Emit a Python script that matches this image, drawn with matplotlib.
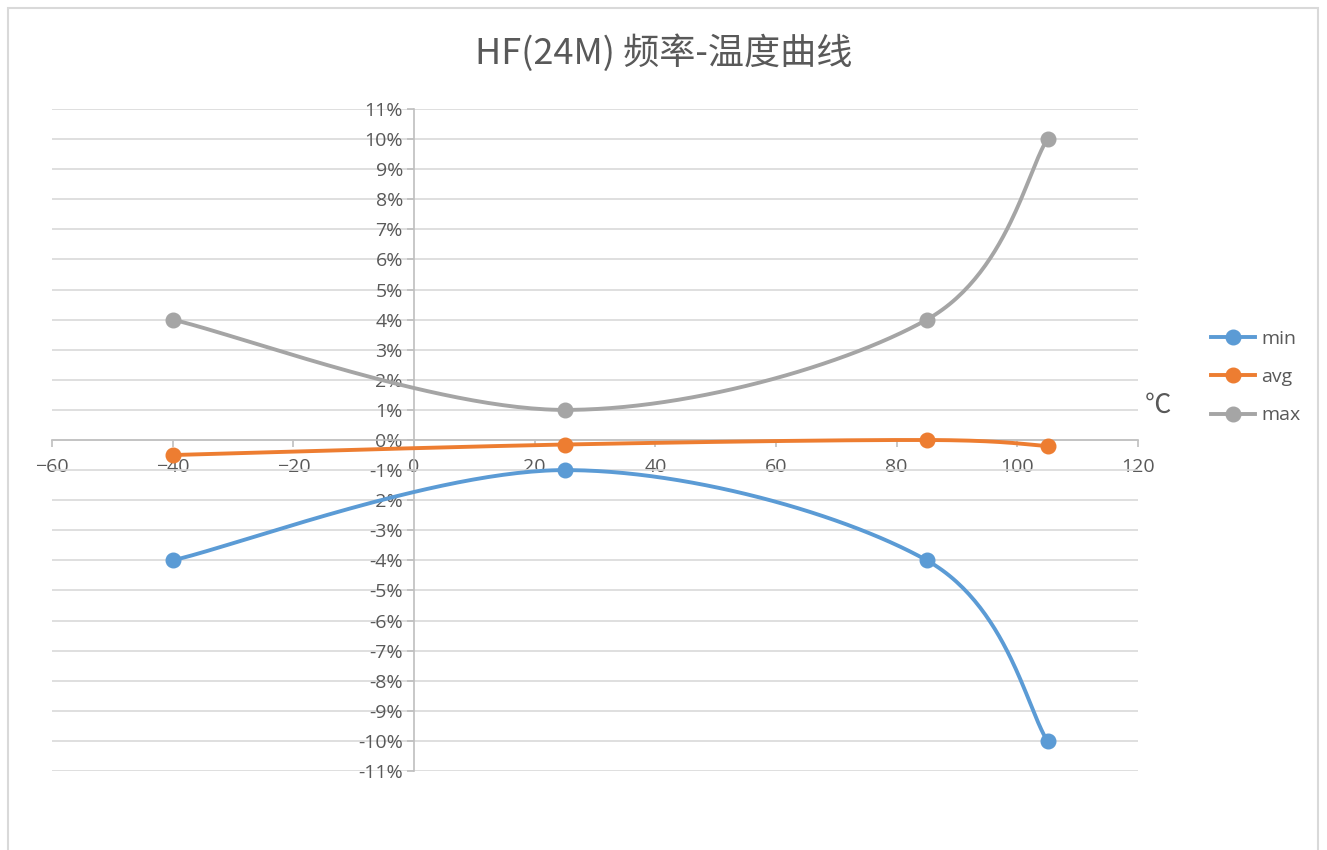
import numpy as np
import matplotlib
matplotlib.use("Agg")
import matplotlib.pyplot as plt
from matplotlib.ticker import FuncFormatter, MultipleLocator
from matplotlib.patches import Rectangle

plt.rcParams['font.family'] = ['Open Sans', 'Noto Sans CJK SC', 'DejaVu Sans']

# data (temperature in C, frequency deviation in %)
temps = [-40, 25, 85, 105]
min_vals = [-4.0, -1.0, -4.0, -10.0]
avg_vals = [-0.5, -0.15, 0.0, -0.2]
max_vals = [4.0, 1.0, 4.0, 10.0]
series_names = ['min', 'avg', 'max']
colors = ['#5B9BD5', '#ED7D31', '#A5A5A5']


def smooth(xs, ys, n=60):
    # excel style smoothed line (catmull-rom bezier)
    p = np.column_stack([xs, ys]).astype(float)
    pts = np.vstack([p[0], p, p[-1]])
    out = []
    t = np.linspace(0, 1, n)[:, None]
    for i in range(1, len(pts) - 2):
        p0, p1, p2, p3 = pts[i - 1], pts[i], pts[i + 1], pts[i + 2]
        c1 = p1 + (p2 - p0) / 6.0
        c2 = p2 - (p3 - p1) / 6.0
        seg = ((1 - t) ** 3) * p1 + 3 * ((1 - t) ** 2) * t * c1 + 3 * (1 - t) * t ** 2 * c2 + t ** 3 * p2
        out.append(seg)
    seg = np.vstack(out)
    return seg[:, 0], seg[:, 1]


fig = plt.figure(figsize=(13.27, 8.5), dpi=100)
ax = fig.add_axes([52 / 1327, 1 - 771 / 850, (1138 - 52) / 1327, (771 - 109) / 850])

# chart frame
fig.patches.append(Rectangle((8 / 1327, -0.05), 1310 / 1327, 1 - 8 / 850 + 0.05,
                             transform=fig.transFigure, fill=False,
                             edgecolor='#D9D9D9', lw=1.5))

for name, vals, c in zip(series_names, [min_vals, avg_vals, max_vals], colors):
    sx, sy = smooth(temps, vals)
    ax.plot(sx, sy, color=c, lw=2.8, solid_capstyle='round', zorder=3)
    ax.plot(temps, vals, 'o', color=c, ms=10.5, zorder=4)
    ax.plot([], [], '-o', color=c, lw=2.8, ms=10.5, label=name)

ax.set_xlim(-60, 120)
ax.set_ylim(-11, 11)
ax.xaxis.set_major_locator(MultipleLocator(20))
ax.yaxis.set_major_locator(MultipleLocator(1))
ax.yaxis.set_major_formatter(FuncFormatter(lambda v, p: '%d%%' % round(v)))
ax.grid(axis='y', color='#D9D9D9', lw=1.2)
ax.set_axisbelow(True)

ax.spines['left'].set_position(('data', 0))
ax.spines['bottom'].set_position(('data', 0))
ax.spines['top'].set_visible(False)
ax.spines['right'].set_visible(False)
for s in ['left', 'bottom']:
    ax.spines[s].set_color('#BFBFBF')
    ax.spines[s].set_linewidth(1.2)
ax.tick_params(axis='both', colors='#BFBFBF', labelcolor='#595959', labelsize=14,
               length=5, width=1.2)
ax.tick_params(axis='x', pad=8)
ax.tick_params(axis='y', pad=3)

fig.text(0.5, 1 - 53 / 850, 'HF(24M) 频率-温度曲线', ha='center', va='center',
         fontsize=26, color='#595959', family=['Noto Sans CJK SC', 'DejaVu Sans'])
fig.text(1158 / 1327, 1 - 405 / 850, '℃', ha='center', va='center', fontsize=19,
         color='#595959', family=['Noto Sans CJK SC', 'DejaVu Sans'])

leg = fig.legend(loc='center left', bbox_to_anchor=(1193 / 1327, 1 - 377 / 850),
                 frameon=False, fontsize=14, labelcolor='#595959',
                 handlelength=2.3, handletextpad=0.3, labelspacing=1.05)

fig.savefig('out.png', dpi=100)
